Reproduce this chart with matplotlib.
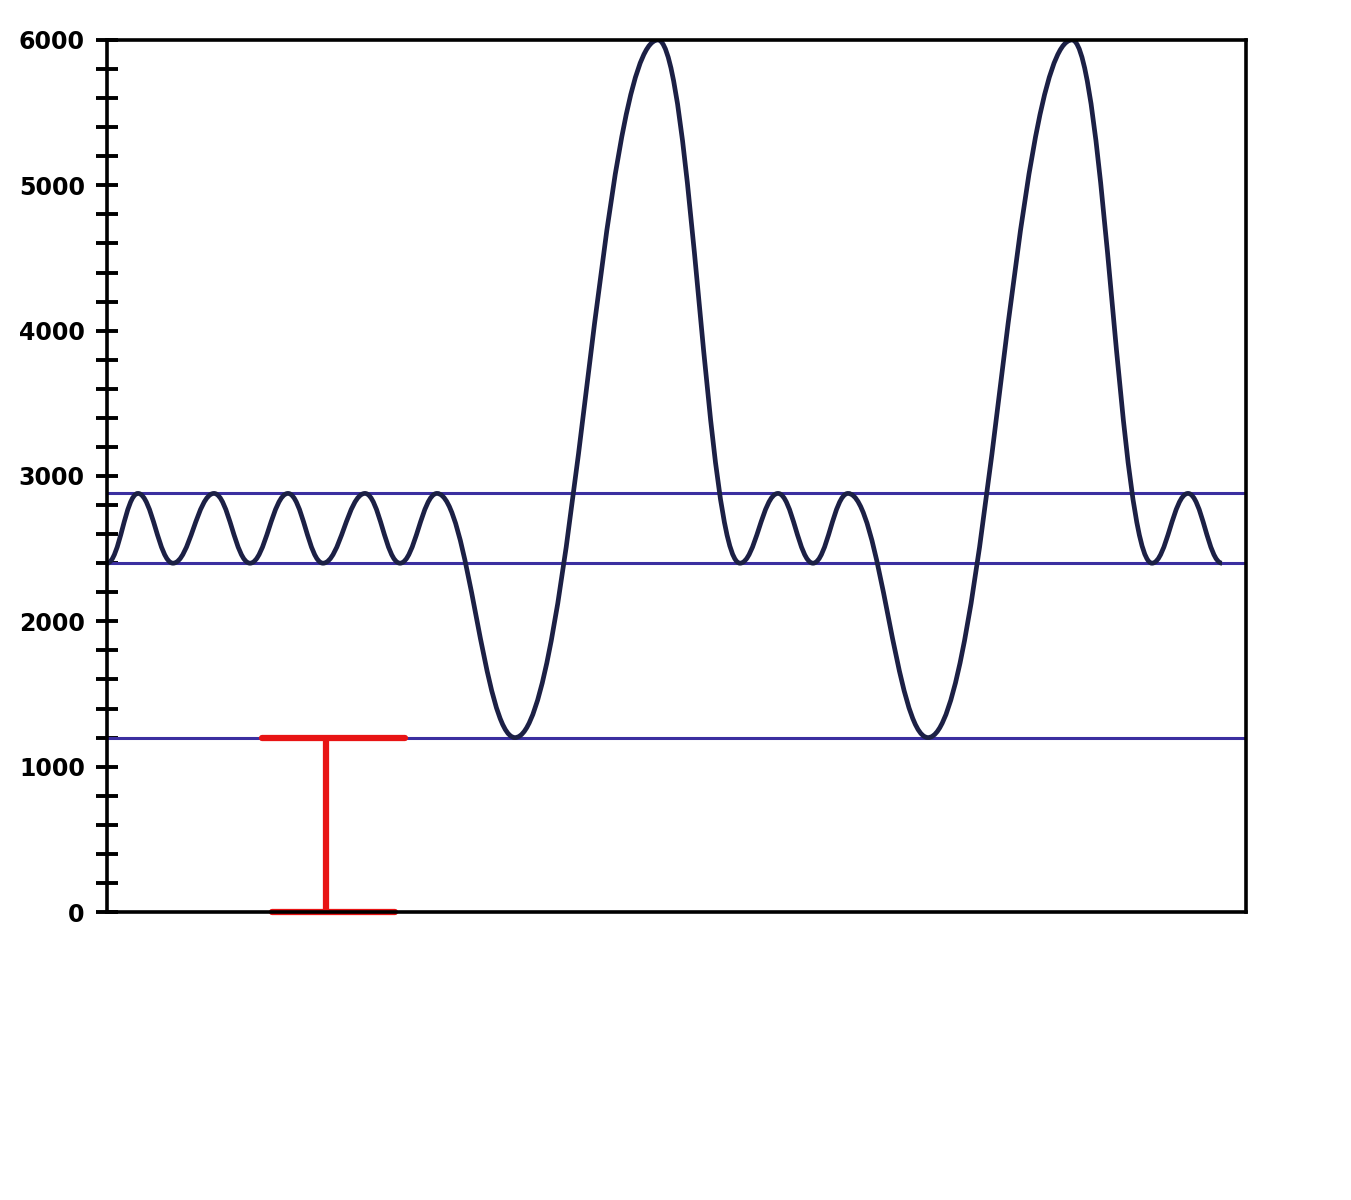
import matplotlib
matplotlib.use("Agg")
import matplotlib.pyplot as plt
from matplotlib.path import Path
from matplotlib.patches import PathPatch
from matplotlib.ticker import MultipleLocator

# turning points of the trace (x position, volume)
peak_x = [0, 31, 66, 107, 143, 181, 216, 258, 293, 330, 408, 551,
          633, 671, 706, 741, 821, 965, 1045, 1081, 1115]
peak_y = [2400, 2880, 2400, 2880, 2400, 2880, 2400, 2880, 2400, 2880, 1200, 6000,
          2400, 2880, 2400, 2880, 1200, 6000, 2400, 2880, 2400]

# reference levels
levels = [2880, 2400, 1200]

# red bracket
bracket_x = 219
bracket_top = 1200
bracket_bottom = 0
bracket_top_span = (155, 298)
bracket_bottom_span = (165, 288)

fig = plt.figure(figsize=(13.51, 12), dpi=100)
ax = fig.add_axes([0.0792, 0.24, 0.8431, 0.7267])

for lv in levels:
    ax.axhline(lv, color='#3b2fa0', lw=2.2, zorder=2)

# smooth trace, flat tangents at each turning point
k = 0.4
verts = [(peak_x[0], peak_y[0])]
codes = [Path.MOVETO]
for i in range(1, len(peak_x)):
    x0, y0 = peak_x[i - 1], peak_y[i - 1]
    x1, y1 = peak_x[i], peak_y[i]
    dx = x1 - x0
    verts += [(x0 + k * dx, y0), (x1 - k * dx, y1), (x1, y1)]
    codes += [Path.CURVE4] * 3
ax.add_patch(PathPatch(Path(verts, codes), facecolor='none',
                       edgecolor='#1c2045', lw=3.4, zorder=3))

ax.plot([bracket_x, bracket_x], [bracket_bottom, bracket_top], color='#e81414', lw=4.5,
        solid_capstyle='butt', zorder=4, clip_on=False)
ax.plot(bracket_top_span, [bracket_top, bracket_top], color='#e81414', lw=4.5,
        solid_capstyle='round', zorder=4, clip_on=False)
ax.plot(bracket_bottom_span, [bracket_bottom, bracket_bottom], color='#e81414', lw=4.5,
        solid_capstyle='round', zorder=4, clip_on=False)

ax.set_xlim(0, 1139)
ax.set_ylim(0, 6000)
ax.set_xticks([])
ax.yaxis.set_major_locator(MultipleLocator(1000))
ax.yaxis.set_minor_locator(MultipleLocator(200))
ax.tick_params(axis='y', which='both', direction='inout', length=16, width=2.8,
               labelsize=17, pad=8)
for lab in ax.get_yticklabels():
    lab.set_fontweight('bold')
for s in ax.spines.values():
    s.set_linewidth(2.6)
    s.set_zorder(5)

fig.savefig('out.png', dpi=100, facecolor='white')
